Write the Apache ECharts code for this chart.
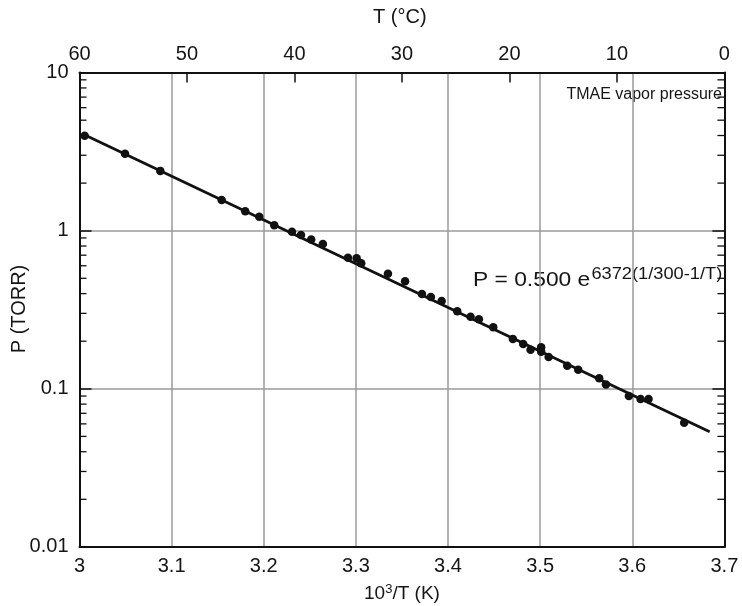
<!DOCTYPE html>
<html>
<head>
<meta charset="utf-8">
<script src="https://cdn.jsdelivr.net/npm/echarts@6/dist/echarts.min.js"></script>
<style>
  html, body { margin: 0; padding: 0; background: #fff; }
  #chart { width: 742px; height: 606px; }
</style>
</head>
<body>
<div id="chart"></div>
<script>
// TMAE vapour pressure measurements: 10^3/T (1/K) against P (Torr)
var invT = [3.0056, 3.0494, 3.0877, 3.1543, 3.1799, 3.1951, 3.2114, 3.2306, 3.2404, 3.2515,
            3.2642, 3.2914, 3.3008, 3.3058, 3.3348, 3.3534, 3.3717, 3.3814, 3.3931, 3.4100,
            3.4245, 3.4335, 3.4491, 3.4704, 3.4816, 3.4896, 3.5011, 3.5011, 3.5092, 3.5294,
            3.5413, 3.5641, 3.5714, 3.5963, 3.6090, 3.6177, 3.6563];
var pressure = [3.99, 3.07, 2.39, 1.564, 1.327, 1.226, 1.082, 0.986, 0.939, 0.881,
                0.824, 0.675, 0.669, 0.622, 0.535, 0.479, 0.398, 0.381, 0.359, 0.309,
                0.286, 0.275, 0.245, 0.2065, 0.192, 0.1768, 0.183, 0.1717, 0.159, 0.140,
                0.132, 0.1165, 0.1065, 0.090, 0.0862, 0.0862, 0.061];

// Fitted curve P = 0.500 e^{6372(1/300-1/T)}, end points
var fitInvT = [3.003, 3.684];
var fitP = [4.10, 0.0535];

// Axis tick labels
var bottomTicks = [3, 3.1, 3.2, 3.3, 3.4, 3.5, 3.6, 3.7];
var topTicks = [60, 50, 40, 30, 20, 10, 0];
var leftTicks = [0.01, 0.1, 1, 10];
var logMinorTicks = [0.02, 0.03, 0.04, 0.05, 0.06, 0.07, 0.08, 0.09,
                     0.2, 0.3, 0.4, 0.5, 0.6, 0.7, 0.8, 0.9,
                     2, 3, 4, 5, 6, 7, 8, 9];

var FONT = '"Liberation Sans", Arial, sans-serif';
var TXT = '#151515';

var chart = echarts.init(document.getElementById('chart'), null, { renderer: 'canvas' });

var points = invT.map(function (x, i) { return [x, pressure[i]]; });
var fitLine = fitInvT.map(function (x, i) { return [x, fitP[i]]; });
var minorData = logMinorTicks.map(function (v) { return [3, v]; });

function fmtBottom(v) {
  var r = Math.round(v * 10) / 10;
  return bottomTicks.indexOf(r) >= 0 ? String(r) : '';
}
function fmtTop(v) {
  var r = Math.round(v);
  return topTicks.indexOf(r) >= 0 ? String(r) : '';
}

var option = {
  backgroundColor: '#fff',
  animation: false,
  grid: { left: 79.5, right: 17.6, top: 72.6, bottom: 59.1, containLabel: false, outerBoundsMode: 'none' },
  xAxis: [
    {
      type: 'value', position: 'bottom',
      min: 3, max: 3.7, interval: 0.1,
      axisLine: { show: true, onZero: false, lineStyle: { color: '#111', width: 2 } },
      axisTick: { show: false },
      axisLabel: { color: TXT, fontFamily: FONT, fontSize: 20, margin: 10, formatter: fmtBottom },
      splitLine: { show: true, lineStyle: { color: '#9a9a9a', width: 1.5 } },
      name: '{a|10}{s|3}{a|/T (K)}', nameLocation: 'middle', nameGap: 36,
      nameTextStyle: {
        rich: {
          a: { fontFamily: FONT, fontSize: 19, color: TXT },
          s: { fontFamily: FONT, fontSize: 13, color: TXT, verticalAlign: 'top', padding: [0, 0, 8, 0] }
        }
      }
    },
    {
      type: 'value', position: 'top', inverse: true,
      min: 0, max: 60, interval: 10,
      axisLine: { show: true, onZero: false, lineStyle: { color: '#111', width: 2 } },
      axisTick: { show: true, inside: true, length: 10, lineStyle: { color: '#111', width: 1.5 } },
      axisLabel: { color: TXT, fontFamily: FONT, fontSize: 20, margin: 8, formatter: fmtTop },
      splitLine: { show: false }
    }
  ],
  yAxis: [
    {
      type: 'log', logBase: 10, position: 'left',
      min: 0.01, max: 10,
      axisLine: { show: true, onZero: false, lineStyle: { color: '#111', width: 2 } },
      axisTick: { show: true, inside: true, length: 12, lineStyle: { color: '#111', width: 1.5 } },
      axisLabel: {
        color: TXT, fontFamily: FONT, fontSize: 20, margin: 11,
        formatter: function (v) {
          var i = leftTicks.findIndex(function (t) { return Math.abs(t - v) / t < 1e-6; });
          return i >= 0 ? String(leftTicks[i]) : '';
        }
      },
      splitLine: { show: true, lineStyle: { color: '#9a9a9a', width: 1.5 } }
    },
    {
      type: 'log', logBase: 10, position: 'right',
      min: 0.01, max: 10,
      axisLine: { show: true, onZero: false, lineStyle: { color: '#111', width: 2 } },
      axisTick: { show: true, inside: true, length: 12, lineStyle: { color: '#111', width: 1.5 } },
      axisLabel: { show: false },
      splitLine: { show: false }
    }
  ],
  graphic: [
    {
      type: 'text', left: 373, top: 7,
      style: { text: 'T (°C)', font: '20px ' + FONT, fill: TXT }
    },
    {
      type: 'text', x: 19, y: 309, rotation: Math.PI / 2,
      style: { text: 'P (TORR)', font: '20px ' + FONT, fill: TXT, textAlign: 'center', textVerticalAlign: 'middle' }
    },
    {
      type: 'text', right: 20, top: 87,
      style: { text: 'TMAE vapor pressure', font: '16px ' + FONT, fill: TXT }
    },
    {
      type: 'text', x: 473, y: 267, scaleX: 1.14,
      style: {
        text: '{a|P = 0.500 e}{s|6372(1/300-1/T)}',
        rich: {
          a: { fontFamily: FONT, fontSize: 20, fill: TXT, color: TXT },
          s: { fontFamily: FONT, fontSize: 16, fill: TXT, color: TXT, verticalAlign: 'top', padding: [0, 0, 10, 1] }
        }
      }
    }
  ],
  series: [
    {
      // log-spaced minor ticks along the left and right frame
      type: 'custom', xAxisIndex: 0, yAxisIndex: 0, silent: true, z: 4,
      data: minorData,
      renderItem: function (params, api) {
        var p = api.coord([3, api.value(1)]);
        var q = api.coord([3.7, api.value(1)]);
        var len = 7;
        return {
          type: 'group',
          children: [
            { type: 'line', shape: { x1: p[0], y1: p[1], x2: p[0] + len, y2: p[1] },
              style: { stroke: '#111', lineWidth: 1.3 } },
            { type: 'line', shape: { x1: q[0], y1: q[1], x2: q[0] - len, y2: q[1] },
              style: { stroke: '#111', lineWidth: 1.3 } }
          ]
        };
      }
    },
    {
      type: 'line', xAxisIndex: 0, yAxisIndex: 0,
      data: fitLine, symbol: 'none', silent: true, z: 5,
      lineStyle: { color: '#111', width: 2.8 }
    },
    {
      type: 'scatter', xAxisIndex: 0, yAxisIndex: 0,
      data: points, symbol: 'circle', symbolSize: 8.5, z: 6,
      itemStyle: { color: '#111', opacity: 1 }
    }
  ]
};

chart.setOption(option);
</script>
</body>
</html>
